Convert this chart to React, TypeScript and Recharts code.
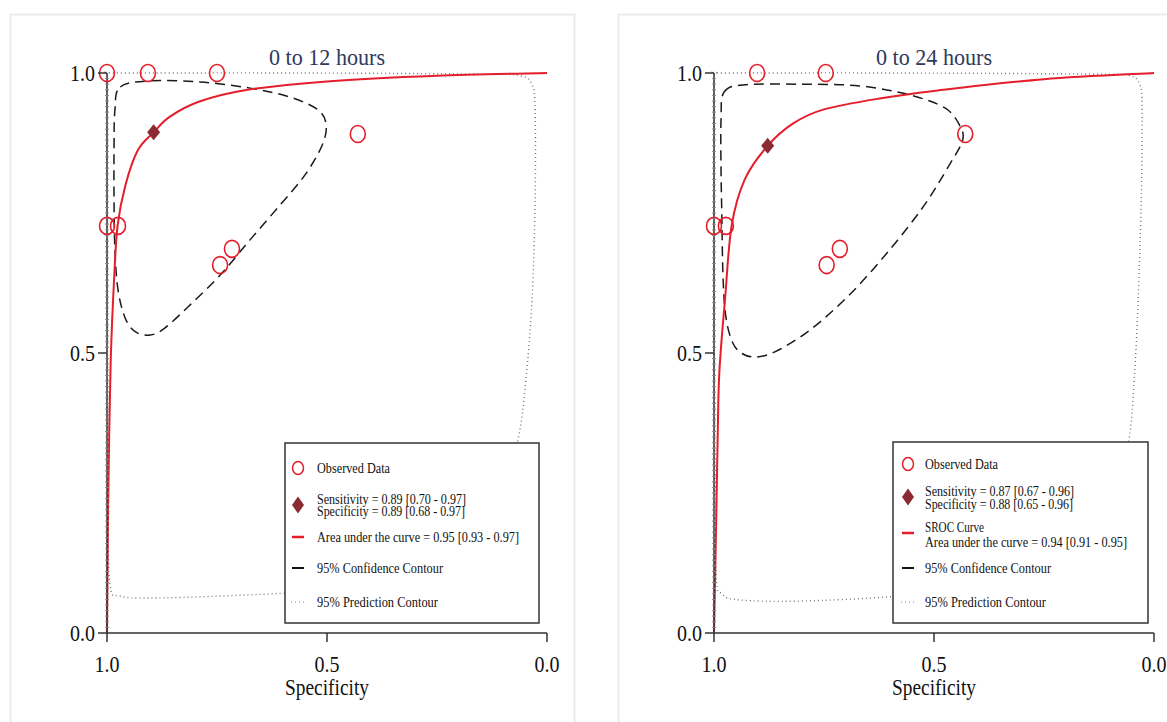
import React from "react";
import { ComposedChart, Line, Scatter, XAxis, YAxis } from "recharts";

// ---------- data (specificity, sensitivity) ----------
const titles = ["0 to 12 hours", "0 to 24 hours"];
const xTickValues = [1, 0.5, 0];
const yMajorTicks = [0, 0.5, 1];

const observed12 = [
  { spec: 1.0, sens: 1.0 }, { spec: 0.907, sens: 1.0 }, { spec: 0.75, sens: 1.0 },
  { spec: 0.43, sens: 0.891 }, { spec: 1.0, sens: 0.727 }, { spec: 0.975, sens: 0.727 },
  { spec: 0.743, sens: 0.657 }, { spec: 0.716, sens: 0.686 },
];
const summary12 = [{ spec: 0.894, sens: 0.894 }];
const sroc12 = [
  { spec: 1.0, sens: 0.0 }, { spec: 0.998, sens: 0.18 }, { spec: 0.995, sens: 0.357 },
  { spec: 0.991, sens: 0.5 }, { spec: 0.984, sens: 0.63 }, { spec: 0.976, sens: 0.727 },
  { spec: 0.958, sens: 0.8 }, { spec: 0.93, sens: 0.862 }, { spec: 0.894, sens: 0.894 },
  { spec: 0.857, sens: 0.922 }, { spec: 0.79, sens: 0.949 }, { spec: 0.68, sens: 0.97 },
  { spec: 0.5, sens: 0.985 }, { spec: 0.25, sens: 0.995 }, { spec: 0.0, sens: 1.0 },
];
const conf12 = [
  { spec: 0.97, sens: 0.975 }, { spec: 0.902, sens: 0.986 }, { spec: 0.789, sens: 0.984 },
  { spec: 0.675, sens: 0.973 }, { spec: 0.584, sens: 0.957 }, { spec: 0.52, sens: 0.934 },
  { spec: 0.502, sens: 0.907 }, { spec: 0.511, sens: 0.871 }, { spec: 0.55, sens: 0.818 },
  { spec: 0.607, sens: 0.764 }, { spec: 0.675, sens: 0.702 }, { spec: 0.743, sens: 0.639 },
  { spec: 0.811, sens: 0.586 }, { spec: 0.868, sens: 0.545 }, { spec: 0.902, sens: 0.532 },
  { spec: 0.936, sens: 0.538 }, { spec: 0.959, sens: 0.563 }, { spec: 0.975, sens: 0.613 },
  { spec: 0.982, sens: 0.684 }, { spec: 0.984, sens: 0.773 }, { spec: 0.984, sens: 0.863 },
  { spec: 0.982, sens: 0.934 },
];
const pred12 = [
  { spec: 0.995, sens: 1.0 }, { spec: 0.97, sens: 1.0 }, { spec: 0.561, sens: 1.0 },
  { spec: 0.152, sens: 0.998 }, { spec: 0.061, sens: 0.995 }, { spec: 0.034, sens: 0.979 },
  { spec: 0.027, sens: 0.934 }, { spec: 0.027, sens: 0.773 }, { spec: 0.034, sens: 0.595 },
  { spec: 0.048, sens: 0.452 }, { spec: 0.066, sens: 0.345 }, { spec: 0.107, sens: 0.238 },
  { spec: 0.22, sens: 0.13 }, { spec: 0.38, sens: 0.086 }, { spec: 0.561, sens: 0.073 },
  { spec: 0.743, sens: 0.066 }, { spec: 0.902, sens: 0.0625 }, { spec: 0.97, sens: 0.066 },
  { spec: 0.993, sens: 0.086 }, { spec: 0.998, sens: 0.238 }, { spec: 0.999, sens: 0.595 },
  { spec: 1.0, sens: 0.863 }, { spec: 1.0, sens: 0.98 },
];

const observed24 = [
  { spec: 1.0, sens: 0.727 }, { spec: 0.973, sens: 0.727 }, { spec: 0.902, sens: 1.0 },
  { spec: 0.746, sens: 1.0 }, { spec: 0.429, sens: 0.891 }, { spec: 0.744, sens: 0.657 },
  { spec: 0.714, sens: 0.686 },
];
const summary24 = [{ spec: 0.878, sens: 0.87 }];
const sroc24 = [
  { spec: 1.0, sens: 0.0 }, { spec: 0.995, sens: 0.2 }, { spec: 0.99, sens: 0.42 },
  { spec: 0.985, sens: 0.5 }, { spec: 0.975, sens: 0.595 }, { spec: 0.96, sens: 0.727 },
  { spec: 0.93, sens: 0.81 }, { spec: 0.878, sens: 0.87 }, { spec: 0.82, sens: 0.91 },
  { spec: 0.75, sens: 0.935 }, { spec: 0.62, sens: 0.955 }, { spec: 0.5, sens: 0.968 },
  { spec: 0.25, sens: 0.989 }, { spec: 0.0, sens: 1.0 },
];
const conf24 = [
  { spec: 0.977, sens: 0.966 }, { spec: 0.93, sens: 0.979 }, { spec: 0.805, sens: 0.98 },
  { spec: 0.669, sens: 0.977 }, { spec: 0.556, sens: 0.961 }, { spec: 0.476, sens: 0.938 },
  { spec: 0.442, sens: 0.907 }, { spec: 0.435, sens: 0.88 }, { spec: 0.465, sens: 0.836 },
  { spec: 0.522, sens: 0.764 }, { spec: 0.601, sens: 0.684 }, { spec: 0.692, sens: 0.604 },
  { spec: 0.782, sens: 0.541 }, { spec: 0.862, sens: 0.502 }, { spec: 0.912, sens: 0.493 },
  { spec: 0.946, sens: 0.505 }, { spec: 0.964, sens: 0.532 }, { spec: 0.975, sens: 0.577 },
  { spec: 0.98, sens: 0.648 }, { spec: 0.982, sens: 0.738 }, { spec: 0.984, sens: 0.827 },
  { spec: 0.984, sens: 0.916 },
];
const pred24 = [
  { spec: 0.995, sens: 1.0 }, { spec: 0.97, sens: 1.0 }, { spec: 0.578, sens: 1.0 },
  { spec: 0.125, sens: 0.998 }, { spec: 0.057, sens: 0.996 }, { spec: 0.032, sens: 0.979 },
  { spec: 0.027, sens: 0.934 }, { spec: 0.029, sens: 0.773 }, { spec: 0.036, sens: 0.595 },
  { spec: 0.045, sens: 0.452 }, { spec: 0.057, sens: 0.345 }, { spec: 0.091, sens: 0.238 },
  { spec: 0.17, sens: 0.148 }, { spec: 0.351, sens: 0.086 }, { spec: 0.578, sens: 0.066 },
  { spec: 0.805, sens: 0.057 }, { spec: 0.941, sens: 0.059 }, { spec: 0.982, sens: 0.07 },
  { spec: 0.995, sens: 0.104 }, { spec: 0.998, sens: 0.327 }, { spec: 1.0, sens: 0.595 },
  { spec: 1.0, sens: 0.863 }, { spec: 1.0, sens: 0.98 },
];

const legend12 = {
  sens: "Sensitivity = 0.89 [0.70 - 0.97]",
  spec: "Specificity = 0.89 [0.68 - 0.97]",
  curve: [] as string[],
  auc: "Area under the curve = 0.95 [0.93 - 0.97]",
};
const legend24 = {
  sens: "Sensitivity = 0.87 [0.67 - 0.96]",
  spec: "Specificity = 0.88 [0.65 - 0.96]",
  curve: ["SROC Curve"],
  auc: "Area under the curve = 0.94 [0.91 - 0.95]",
};

// ---------- styling ----------
const FONT = "'Liberation Serif', 'DejaVu Serif', serif";
const RED = "#e41e2a";
const DARKRED = "#8b2a31";
const AXIS_X = 107;
const PLOT_TOP = 73;
const PLOT_BOTTOM = 633;
const minorTicks = Array.from({ length: 101 }, (_, i) => i / 100);

// Catmull-Rom curve factory (open or closed)
const catmull = (closed: boolean) => (context: any) => {
  let pts: number[][] = [];
  return {
    areaStart() {},
    areaEnd() {},
    lineStart() { pts = []; },
    point(x: number, y: number) { pts.push([+x, +y]); },
    lineEnd() {
      const n = pts.length;
      if (!n) return;
      const get = (i: number) =>
        closed ? pts[((i % n) + n) % n] : pts[Math.max(0, Math.min(n - 1, i))];
      context.moveTo(pts[0][0], pts[0][1]);
      const segs = closed ? n : n - 1;
      for (let i = 0; i < segs; i++) {
        const p0 = get(i - 1), p1 = get(i), p2 = get(i + 1), p3 = get(i + 2);
        context.bezierCurveTo(
          p1[0] + (p2[0] - p0[0]) / 6, p1[1] + (p2[1] - p0[1]) / 6,
          p2[0] - (p3[0] - p1[0]) / 6, p2[1] - (p3[1] - p1[1]) / 6,
          p2[0], p2[1]
        );
      }
      if (closed) context.closePath();
    },
  };
};
const closedCurve = catmull(true);
const openCurve = catmull(false);

const fmt = (v: number) => v.toFixed(1);

const XTick = (props: any) => {
  const { x, payload } = props;
  return (
    <text x={x} y={PLOT_BOTTOM + 39} textAnchor="middle" fontFamily={FONT} fontSize={24}
      fill="#111" textLength={25} lengthAdjust="spacingAndGlyphs">
      {fmt(payload.value)}
    </text>
  );
};

const YTick = (props: any) => {
  const { y, payload } = props;
  const v = payload.value;
  const major = yMajorTicks.some((m) => Math.abs(m - v) < 1e-6);
  if (major) {
    return (
      <g>
        <line x1={AXIS_X - 9} x2={AXIS_X} y1={y} y2={y} stroke="#333" strokeWidth={1.5} />
        <text x={AXIS_X - 12} y={y + 8} textAnchor="end" fontFamily={FONT} fontSize={24}
          fill="#111" textLength={25} lengthAdjust="spacingAndGlyphs">
          {fmt(v)}
        </text>
      </g>
    );
  }
  return <line x1={AXIS_X - 2} x2={AXIS_X + 2} y1={y} y2={y} stroke="#888" strokeWidth={1} />;
};

const OpenCircle = (props: any) => {
  const { cx, cy } = props;
  return <ellipse cx={cx} cy={cy} rx={7.5} ry={8.5} fill="none" stroke={RED} strokeWidth={1.6} />;
};
const Diamond = (props: any) => {
  const { cx, cy } = props;
  return (
    <path d={`M${cx},${cy - 8} L${cx + 6.5},${cy} L${cx},${cy + 8} L${cx - 6.5},${cy} Z`} fill={DARKRED} />
  );
};

type PanelProps = {
  left: number;
  width: number;
  title: string;
  observed: any[];
  summary: any[];
  sroc: any[];
  conf: any[];
  pred: any[];
  legend: typeof legend12;
  rows: any;
};

const LText = ({ x, y, len, children }: any) => (
  <text x={x} y={y + 5} fontFamily={FONT} fontSize={15.5} fill="#111"
    textLength={len} lengthAdjust="spacingAndGlyphs">{children}</text>
);

const Panel = ({ left, width, title, observed, summary, sroc, conf, pred, legend, rows }: PanelProps) => {
  const r = rows;
  return (
    <div style={{ position: "absolute", left, top: 0, width, height: 722 }}>
      <ComposedChart width={width} height={722}
        margin={{ top: PLOT_TOP, right: width - 547, bottom: 722 - PLOT_BOTTOM - 60, left: AXIS_X - 60 }}>
        <XAxis type="number" dataKey="spec" domain={[0, 1]} reversed ticks={xTickValues}
          height={60} tickSize={9} interval={0}
          axisLine={{ stroke: "#333", strokeWidth: 1.5 }} tickLine={{ stroke: "#333", strokeWidth: 1.5 }}
          tick={<XTick />} />
        <YAxis type="number" dataKey="sens" domain={[0, 1]} ticks={minorTicks} interval={0}
          width={60} axisLine={{ stroke: "#333", strokeWidth: 1.5 }}
          tickLine={false} tick={<YTick />} />
        <Line data={pred} dataKey="sens" type={closedCurve as any} stroke="#777" strokeWidth={1.4}
          strokeDasharray="1 3" dot={false} activeDot={false} isAnimationActive={false} />
        <Line data={conf} dataKey="sens" type={closedCurve as any} stroke="#1a1a1a" strokeWidth={1.5}
          strokeDasharray="10 6" dot={false} activeDot={false} isAnimationActive={false} />
        <Line data={sroc} dataKey="sens" type={openCurve as any} stroke={RED} strokeWidth={2}
          dot={false} activeDot={false} isAnimationActive={false} />
        <Scatter data={observed} dataKey="sens" shape={<OpenCircle />} isAnimationActive={false} />
        <Scatter data={summary} dataKey="sens" shape={<Diamond />} isAnimationActive={false} />
      </ComposedChart>
      <svg width={width} height={722} style={{ position: "absolute", left: 0, top: 0 }}>
        <text x={327} y={65} textAnchor="middle" fontFamily={FONT} fontSize={24} fill="#2e3a5c"
          textLength={116} lengthAdjust="spacingAndGlyphs">{title}</text>
        <text x={327} y={695} textAnchor="middle" fontFamily={FONT} fontSize={24} fill="#111"
          textLength={84} lengthAdjust="spacingAndGlyphs">Specificity</text>
        <rect x={r.box[0]} y={r.box[1]} width={r.box[2]} height={r.box[3]} fill="#fff" stroke="#333" strokeWidth={1.5} />
        <ellipse cx={r.sx} cy={r.obs} rx={5.5} ry={6.5} fill="none" stroke={RED} strokeWidth={1.5} />
        <LText x={r.tx} y={r.obs} len={73}>Observed Data</LText>
        <path d={`M${r.sx},${r.dia - 8.5} L${r.sx + 6},${r.dia} L${r.sx},${r.dia + 8.5} L${r.sx - 6},${r.dia} Z`} fill={DARKRED} />
        <LText x={r.tx} y={r.sens} len={149}>{legend.sens}</LText>
        <LText x={r.tx} y={r.spec} len={148}>{legend.spec}</LText>
        <line x1={r.sx - 6} x2={r.sx + 6} y1={r.red} y2={r.red} stroke={RED} strokeWidth={2.5} />
        {legend.curve.map((c) => (
          <LText key={c} x={r.tx} y={r.curve} len={59}>{c}</LText>
        ))}
        <LText x={r.tx} y={r.auc} len={202}>{legend.auc}</LText>
        <line x1={r.sx - 6} x2={r.sx + 6} y1={r.conf} y2={r.conf} stroke="#111" strokeWidth={2} />
        <LText x={r.tx} y={r.conf} len={126}>95% Confidence Contour</LText>
        <line x1={r.sx - 7} x2={r.sx + 6} y1={r.pred} y2={r.pred} stroke="#888" strokeWidth={1.2} strokeDasharray="1 3" />
        <LText x={r.tx} y={r.pred} len={121}>95% Prediction Contour</LText>
      </svg>
    </div>
  );
};

const rows12 = { box: [285, 443, 254, 180], sx: 298, tx: 317, obs: 468, dia: 505, sens: 498.5, spec: 511, red: 537, curve: 0, auc: 537, conf: 568, pred: 602 };
const rows24 = { box: [286, 442, 255, 181], sx: 301, tx: 318, obs: 464, dia: 497, sens: 491, spec: 503.5, red: 533, curve: 527, auc: 542, conf: 568, pred: 602 };

export default function App() {
  return (
    <div style={{ position: "absolute", left: 0, top: 0, width: 1167, height: 722, background: "#fff", overflow: "hidden" }}>
      <svg width={1167} height={722} style={{ position: "absolute", left: 0, top: 0 }}>
        <rect x={10.5} y={14.5} width={564} height={720} fill="none" stroke="#ececec" strokeWidth={2} />
        <rect x={618.5} y={14.5} width={560} height={720} fill="none" stroke="#ececec" strokeWidth={2} />
      </svg>
      <Panel left={0} width={580} title={titles[0]} observed={observed12} summary={summary12}
        sroc={sroc12} conf={conf12} pred={pred12} legend={legend12} rows={rows12} />
      <Panel left={607} width={560} title={titles[1]} observed={observed24} summary={summary24}
        sroc={sroc24} conf={conf24} pred={pred24} legend={legend24} rows={rows24} />
    </div>
  );
}
